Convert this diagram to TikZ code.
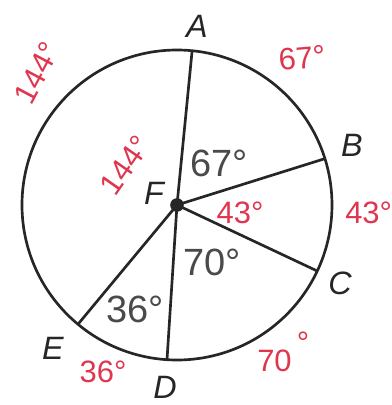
\documentclass[tikz,border=0pt]{standalone}
\usepackage{fontspec}
\setmainfont{Liberation Sans}
\usepackage{tikz}

\begin{document}
\begin{tikzpicture}

% Colori
\definecolor{colLinea}{HTML}{262626}
\definecolor{colGrigio}{HTML}{4A4A4A}
\definecolor{colPenna}{HTML}{E0354F}

% Raggio della circonferenza
\def\r{3.875}

\tikzset{
  lettera/.style={font=\fontsize{23}{24}\selectfont\itshape, text=colLinea, inner sep=0pt},
  angolo/.style={font=\fontsize{27}{28}\selectfont, text=colGrigio, inner sep=0pt},
  penna/.style={font=\fontsize{22}{23}\selectfont, text=colPenna, inner sep=0pt},
  raggio/.style={draw=colLinea, line width=1.9pt}
}

% Margini
\useasboundingbox (-4.425,-5.0) rectangle (5.35,5.125);

% Centro e punti sulla circonferenza
\coordinate (F) at (0,0);
\coordinate (A) at (84.4:\r);
\coordinate (B) at (17.4:\r);
\coordinate (C) at (-25.2:\r);
\coordinate (D) at (-93.7:\r);
\coordinate (E) at (-129.7:\r);

% Circonferenza e raggi
\draw[raggio] (F) circle (\r);
\foreach \p in {A,B,C,D,E}
  \draw[raggio] (F) -- (\p);
\fill[colLinea] (F) circle (0.17);

% Lettere
\node[lettera] (lblA) at (0.5,4.475) {A};
\node[lettera] (lblB) at (4.375,1.5) {B};
\node[lettera] (lblC) at (4.075,-1.95) {C};
\node[lettera] (lblD) at (-0.3,-4.55) {D};
\node[lettera] (lblE) at (-3.1,-3.575) {E};
\node[lettera] (lblF) at (-0.575,0.3) {F};

% Angoli al centro
\node[angolo] (angAFB) at (1.05,1.05) {67°};
\node[angolo] (angCFD) at (0.875,-1.425) {70°};
\node[angolo] (angDFE) at (-1.05,-2.6) {36°};

% Annotazioni a penna
\node[penna, rotate=62] (arcAE) at (-3.5,3.3) {144°};
\node[penna, rotate=55] (angAFE) at (-1.3,1.0) {144°};
\node[penna, rotate=5] (arcAB) at (3.125,3.675) {67°};
\node[penna] (angBFC) at (1.575,-0.2) {43°};
\node[penna, anchor=west] (arcBC) at (4.2,-0.2) {43°};
\node[penna, anchor=west] (arcCD) at (2.0,-3.675) {70\,\raisebox{1.1ex}{°}};
\node[penna] (arcDE) at (-1.85,-4.175) {36°};
\end{tikzpicture}
\end{document}
